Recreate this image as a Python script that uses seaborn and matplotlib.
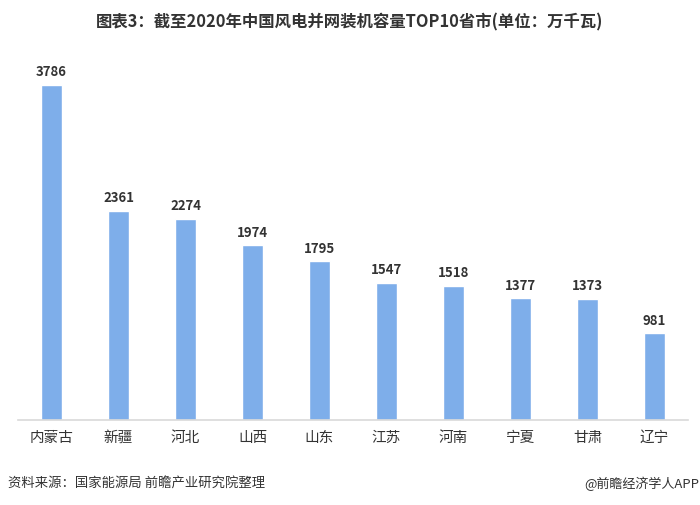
import matplotlib
matplotlib.use("Agg")
import matplotlib.pyplot as plt
import seaborn as sns
import pandas as pd

# data
provinces = ["内蒙古", "新疆", "河北", "山西", "山东", "江苏", "河南", "宁夏", "甘肃", "辽宁"]
capacity = [3786, 2361, 2274, 1974, 1795, 1547, 1518, 1377, 1373, 981]
title = "图表3：截至2020年中国风电并网装机容量TOP10省市(单位：万千瓦)"
source = "资料来源：国家能源局 前瞻产业研究院整理"
brand = "@前瞻经济学人APP"

sns.set_style("white")
plt.rcParams["font.family"] = ["Noto Sans CJK SC", "DejaVu Sans"]

df = pd.DataFrame({"省市": provinces, "装机容量": capacity})

fig = plt.figure(figsize=(7, 5.06), dpi=100)
ax = fig.add_axes([18 / 700, 85 / 506, 670 / 700, 361 / 506])

sns.barplot(data=df, x="省市", y="装机容量", color="#7eaeea", saturation=1,
            width=0.31, ax=ax)

ax.set_xlim(-0.5, 9.5)
ax.set_ylim(0, 4080)
ax.set_xlabel("")
ax.set_ylabel("")
ax.set_yticks([])
for side in ["top", "left", "right"]:
    ax.spines[side].set_visible(False)
ax.spines["bottom"].set_color("#d9d9d9")
ax.spines["bottom"].set_linewidth(1.2)
ax.tick_params(axis="x", length=0, pad=7, labelsize=10.5, labelcolor="#333333")

for i, v in enumerate(capacity):
    ax.text(i, v + 75, str(v), ha="center", va="bottom", fontsize=9.5,
            fontweight="bold", color="#333333")

fig.text(0.5, 1 - 22 / 506, title, ha="center", va="center", fontsize=11.8,
         fontweight="bold", color="#333333")
fig.text(8 / 700, 1 - 484 / 506, source, ha="left", va="center", fontsize=9.6,
         color="#333333")
fig.text(1 - 1 / 700, 1 - 484 / 506, brand, ha="right", va="center", fontsize=9.4,
         color="#333333")

fig.savefig("out.png", dpi=100)
